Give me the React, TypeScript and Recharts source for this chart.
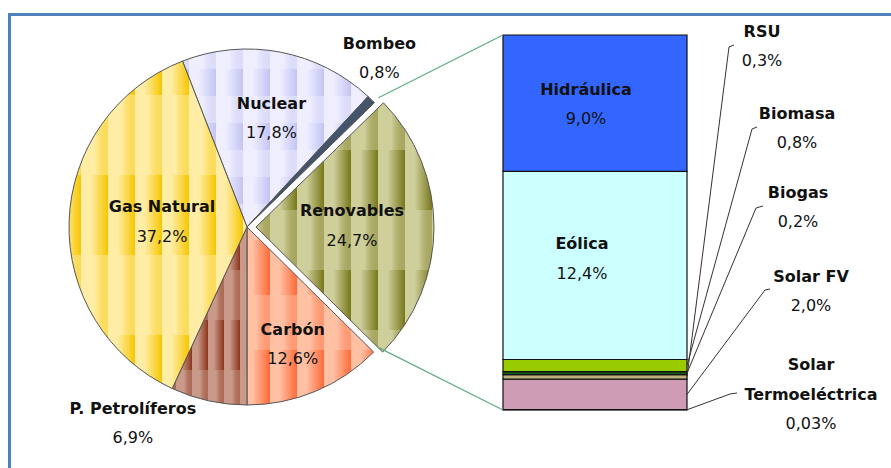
import { PieChart, Pie, Cell, BarChart, Bar, XAxis, YAxis } from "recharts";

// energía primaria por fuente (%)
const sources = ["Nuclear", "Bombeo", "Renovables", "Carbón", "P. Petrolíferos", "Gas Natural"];
const sourceShares = [17.8, 0.8, 24.7, 12.6, 6.9, 37.2];

// desglose de renovables, de abajo arriba en la barra
const renewables = ["Solar Termoeléctrica", "Solar FV", "RSU", "Biogas", "Biomasa", "Eólica", "Hidráulica"];
const renewableShares = [0.03, 2.0, 0.3, 0.2, 0.8, 12.4, 9.0];

const W = 891;
const H = 468;
const FONT = "'DejaVu Sans', Verdana, sans-serif";
const RAD = Math.PI / 180;
const sum = (xs: number[]) => xs.reduce((a, b) => a + b, 0);

const EXPLODED = "Renovables";
const PIE_CX = 242;
const PIE_CY = 222;
const PIE_R = 178;
const EXPLODE_BY = 9;

const pieData = sources.map((name, i) => ({ name, value: sourceShares[i] }));
const pieTotal = sum(sourceShares);
// the Carbón / P. Petrolíferos edge points straight down
const START = 90 + ((sum(sourceShares.slice(0, 4)) / pieTotal) * 360 - 180);

const polar = (cx: number, cy: number, r: number, a: number) => [cx + r * Math.cos(a * RAD), cy - r * Math.sin(a * RAD)];

const expIdx = sources.indexOf(EXPLODED);
const expA0 = START - (sum(sourceShares.slice(0, expIdx)) / pieTotal) * 360;
const expA1 = expA0 - (sourceShares[expIdx] / pieTotal) * 360;
const expMid = (expA0 + expA1) / 2;
const EXP_CX = PIE_CX + EXPLODE_BY * Math.cos(expMid * RAD);
const EXP_CY = PIE_CY - EXPLODE_BY * Math.sin(expMid * RAD);
const expTop = polar(EXP_CX, EXP_CY, PIE_R, expA0);
const expBottom = polar(EXP_CX, EXP_CY, PIE_R, expA1);

const pieFill: Record<string, string> = {
  Nuclear: "url(#pNuc)",
  Bombeo: "#44546A",
  Renovables: "url(#pRen)",
  "Carbón": "url(#pCar)",
  "P. Petrolíferos": "url(#pPet)",
  "Gas Natural": "url(#pGas)",
};

const pieLabelSpot: Record<string, { r: number; dx: number; dy: number }> = {
  Nuclear: { r: 109, dx: 4, dy: -2 },
  Bombeo: { r: 214, dx: -17, dy: -16 },
  Renovables: { r: 96, dx: 0, dy: -2 },
  "Carbón": { r: 129, dx: -4, dy: -2 },
  "P. Petrolíferos": { r: 205, dx: -70, dy: -4 },
  "Gas Natural": { r: 85, dx: 0, dy: -3 },
};

const barRow = [Object.fromEntries(renewables.map((n, i) => [n, renewableShares[i]]))];
const barTotal = sum(renewableShares);

const barColor: Record<string, string> = {
  "Solar Termoeléctrica": "#1a1a1a",
  "Solar FV": "#CF9CB6",
  RSU: "#BDB27E",
  Biogas: "#145E14",
  Biomasa: "#99CC00",
  "Eólica": "#CCFFFF",
  "Hidráulica": "#3366FF",
};

const insideSpot: Record<string, { dx: number; dy: number }> = {
  "Hidráulica": { dx: -9, dy: 1 },
  "Eólica": { dx: -13, dy: -7 },
};

const sideSpot: Record<string, { x: number; y: number; lines: string[]; hook: number[] }> = {
  RSU: { x: 762, y: 46, lines: ["RSU"], hook: [729, 47, 734, 45] },
  Biomasa: { x: 797, y: 128, lines: ["Biomasa"], hook: [752, 129, 757, 127] },
  Biogas: { x: 798, y: 207, lines: ["Biogas"], hook: [756, 208, 763, 206] },
  "Solar FV": { x: 811, y: 291, lines: ["Solar FV"], hook: [765, 290, 770, 289] },
  "Solar Termoeléctrica": { x: 811, y: 394, lines: ["Solar", "Termoeléctrica"], hook: [730, 394, 737, 393] },
};

const fmt = (v: number) => (v < 0.1 ? v.toFixed(2) : v.toFixed(1)).replace(".", ",") + "%";

function labelBlock(x: number, cy: number, lines: string[], value: number) {
  const step = 29.5;
  const all = [...lines, fmt(value)];
  const y0 = cy - ((all.length - 1) * step) / 2;
  return (
    <g>
      {all.map((t, i) => (
        <text
          key={i}
          x={x}
          y={y0 + i * step}
          textAnchor="middle"
          dominantBaseline="central"
          fontFamily={FONT}
          fontSize={16}
          fontWeight={i < lines.length ? "bold" : "normal"}
          fill="#111"
        >
          {t}
        </text>
      ))}
    </g>
  );
}

const makePieLabel = (exploded: boolean) => (p: any) => {
  const name = p.payload?.name ?? p.name;
  if ((name === EXPLODED) !== exploded) return <g />;
  const spot = pieLabelSpot[name];
  const [x, y] = polar(p.cx, p.cy, spot.r, p.midAngle);
  return labelBlock(x + spot.dx, y + spot.dy, [name], p.value);
};

const makeBarLabel = (name: string, value: number) => (p: any) => {
  const x = Number(p.x);
  const y = Number(p.y);
  const w = Number(p.width);
  const h = Number(p.height);
  const parts: any[] = [];
  if (name === renewables[renewables.length - 1]) {
    parts.push(<line key="c1" x1={expTop[0]} y1={expTop[1]} x2={x} y2={y} stroke="#5FAA84" strokeWidth={1.2} />);
  }
  if (name === renewables[0]) {
    parts.push(<line key="c2" x1={expBottom[0]} y1={expBottom[1]} x2={x} y2={y + h} stroke="#5FAA84" strokeWidth={1.2} />);
  }
  const inside = insideSpot[name];
  if (inside) {
    parts.push(<g key="in">{labelBlock(x + w / 2 + inside.dx, y + h / 2 + inside.dy, [name], value)}</g>);
  }
  const side = sideSpot[name];
  if (side) {
    const [hx, hy, tx, ty] = side.hook;
    parts.push(
      <polyline
        key="lead"
        points={`${x + w},${y + h / 2} ${hx},${hy} ${tx},${ty}`}
        fill="none"
        stroke="#333"
        strokeWidth={1}
      />
    );
    parts.push(<g key="side">{labelBlock(side.x, side.y, side.lines, value)}</g>);
  }
  return <g>{parts}</g>;
};

function Tile({ id, light, dark, w, h, y = 0, split = 0.5 }: any) {
  return (
    <>
      <linearGradient id={id + "g"} x1="0" y1="0" x2="1" y2="0">
        <stop offset="0" stopColor={light} />
        <stop offset="0.35" stopColor={light} />
        <stop offset="1" stopColor={dark} />
      </linearGradient>
      <linearGradient id={id + "s"} x1="0" y1="0" x2="1" y2="0">
        <stop offset="0" stopColor={light} />
        <stop offset="0.5" stopColor={light} />
        <stop offset="1" stopColor={dark} stopOpacity={0.45} />
      </linearGradient>
      <pattern id={id} width={w} height={h} y={y} patternUnits="userSpaceOnUse">
        <rect width={w} height={h} fill={light} />
        <rect width={w} height={h * split} fill={`url(#${id}g)`} />
        <rect y={h * split} width={w} height={h * (1 - split)} fill={`url(#${id}s)`} />
      </pattern>
    </>
  );
}

export default function App() {
  return (
    <div style={{ position: "absolute", left: 0, top: 0, width: W, height: H, background: "#fff", overflow: "hidden" }}>
      <div
        style={{
          position: "absolute",
          left: 8,
          top: 13,
          width: W,
          height: H,
          borderTop: "3px solid #4F81BD",
          borderLeft: "3px solid #4F81BD",
        }}
      />
      <div style={{ position: "absolute", left: 0, top: 0 }}>
        <PieChart width={W} height={H}>
          <defs>
            <Tile id="pGas" light="#FFEDA6" dark="#F7C600" w={27} h={160} y={15} />
            <Tile id="pNuc" light="#EEEEFF" dark="#C4C4F4" w={27} h={54} y={15} />
            <Tile id="pRen" light="#CFCF9C" dark="#77771A" w={27} h={120} y={30} />
            <Tile id="pCar" light="#FFC0A4" dark="#FF6A38" w={27} h={110} y={20} />
            <Tile id="pPet" light="#C9998A" dark="#8C341A" w={16} h={100} y={20} />
          </defs>
          <Pie
            data={pieData}
            dataKey="value"
            nameKey="name"
            cx={PIE_CX}
            cy={PIE_CY}
            outerRadius={PIE_R}
            startAngle={START}
            endAngle={START - 360}
            stroke="#555"
            strokeWidth={1}
            label={makePieLabel(false)}
            labelLine={false}
            isAnimationActive={false}
          >
            {pieData.map((d) => (
              <Cell key={d.name} fill={d.name === EXPLODED ? "none" : pieFill[d.name]} stroke={d.name === EXPLODED ? "none" : "#555"} />
            ))}
          </Pie>
          <Pie
            data={pieData}
            dataKey="value"
            nameKey="name"
            cx={EXP_CX}
            cy={EXP_CY}
            outerRadius={PIE_R}
            startAngle={START}
            endAngle={START - 360}
            label={makePieLabel(true)}
            labelLine={false}
            isAnimationActive={false}
          >
            {pieData.map((d) => (
              <Cell key={d.name} fill={d.name === EXPLODED ? pieFill[d.name] : "none"} stroke={d.name === EXPLODED ? "#555" : "none"} />
            ))}
          </Pie>
        </PieChart>
      </div>
      <div style={{ position: "absolute", left: 0, top: 0 }}>
        <BarChart
          width={W}
          height={H}
          data={barRow}
          margin={{ top: 35, right: W - 687, bottom: H - 410, left: 503 }}
          barCategoryGap={0}
        >
          <XAxis hide />
          <YAxis hide domain={[0, barTotal]} />
          {renewables.map((name, i) => (
            <Bar
              key={name}
              dataKey={name}
              stackId="r"
              fill={barColor[name]}
              stroke="#111"
              strokeWidth={1.2}
              label={makeBarLabel(name, renewableShares[i])}
              isAnimationActive={false}
            />
          ))}
        </BarChart>
      </div>
    </div>
  );
}
